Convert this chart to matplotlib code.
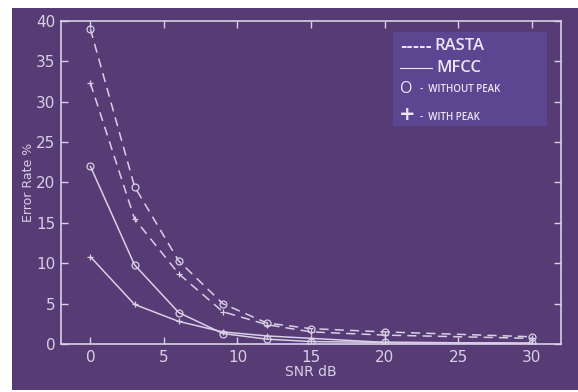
import numpy as np
import matplotlib.pyplot as plt
from matplotlib.patches import Rectangle

# ---- data ----
snr = [0, 3, 6, 9, 12, 15, 20, 30]
rasta_no_peak = [39.0, 19.5, 10.3, 5.0, 2.6, 1.9, 1.5, 0.9]
rasta_peak = [32.3, 15.5, 8.7, 4.0, 2.4, 1.5, 1.1, 0.7]
mfcc_no_peak = [22.0, 9.8, 3.9, 1.3, 0.6, 0.3, 0.2, 0.1]
mfcc_peak = [10.8, 4.9, 2.8, 1.5, 1.0, 0.7, 0.2, 0.1]

xticks = [0, 5, 10, 15, 20, 25, 30]
yticks = [0, 5, 10, 15, 20, 25, 30, 35, 40]

BG = '#563b75'
BOX = '#5c4591'
FG = '#d8d0e4'
TXT = '#ece6f4'

W, H = 578, 392
fig = plt.figure(figsize=(W / 100, H / 100), dpi=100, facecolor='white')

def px(x, y):
    return x / W, 1 - y / H

# purple panel (white strip on top/left like the scan)
fig.patches.append(Rectangle(px(12, 390), (W - 12) / W, (390 - 8) / H,
                             transform=fig.transFigure, facecolor=BG,
                             edgecolor='none', zorder=-5))

l, r, t, b = 61, 561, 21, 344
ax = fig.add_axes([l / W, 1 - b / H, (r - l) / W, (b - t) / H])
ax.set_facecolor(BG)

kw = dict(color=FG, lw=1.1, ms=5, mew=0.9, mfc='none')
ax.plot(snr, rasta_no_peak, ls=(0, (6, 4)), marker='o', **kw)
ax.plot(snr, rasta_peak, ls=(0, (6, 4)), marker='+', **kw)
ax.plot(snr, mfcc_no_peak, ls='-', marker='o', **kw)
ax.plot(snr, mfcc_peak, ls='-', marker='+', **kw)

ax.set_xlim(-2, 32)
ax.set_ylim(0, 40)
ax.set_xticks(xticks)
ax.set_yticks(yticks)
ax.tick_params(direction='in', length=5, width=1, colors=FG,
               top=True, right=True, labelsize=11, labelcolor=FG, pad=4)
for s in ax.spines.values():
    s.set_color(FG)
    s.set_linewidth(1.2)

ax.set_xlabel('SNR dB', color=FG, fontsize=10, labelpad=0)
ax.set_ylabel('Error Rate %', color=FG, fontsize=9)
ax.yaxis.set_label_coords(-0.052, 0.5)

# legend box drawn by hand
fig.patches.append(Rectangle(px(393, 126), (547 - 393) / W, (126 - 32) / H,
                             transform=fig.transFigure, facecolor=BOX,
                             edgecolor='none', zorder=3))
lg = dict(color=TXT, va='center', zorder=4)
fig.text(*px(400, 46), '-----', fontsize=11, fontweight='semibold', **lg)
fig.text(*px(434, 46), 'RASTA', fontsize=12, family='Open Sans', fontweight='semibold', **lg)
fig.lines.append(plt.Line2D([400 / W, 432 / W], [1 - 68 / H, 1 - 68 / H],
                            transform=fig.transFigure, color=TXT, lw=0.8, zorder=4))
fig.text(*px(436, 68), 'MFCC', fontsize=12, family='Open Sans', fontweight='semibold', **lg)
fig.text(*px(400, 89), 'O', fontsize=11.5, family='Open Sans', **lg)
fig.text(*px(420, 90), '-  WITHOUT PEAK', fontsize=7, family='Open Sans', fontweight='semibold', **lg)
fig.text(*px(399, 115), '+', fontsize=14, family='DejaVu Sans', fontweight='bold', **lg)
fig.text(*px(420, 117), '-  WITH PEAK', fontsize=7, family='Open Sans', fontweight='semibold', **lg)

fig.savefig('out.png', dpi=100, facecolor=fig.get_facecolor())
